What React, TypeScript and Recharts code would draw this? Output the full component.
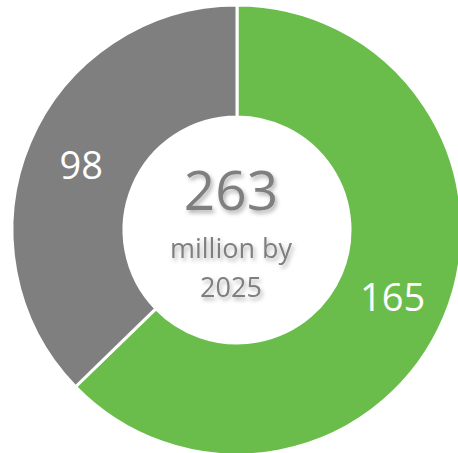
import { PieChart, Pie, Cell } from 'recharts';

const segments = ['Green', 'Gray'];
const values = [165, 98];
const colors = ['#6abd4b', '#7f7f7f'];
const totalLabel = '263';
const subLines = ['million by', '2025'];

const data = segments.map((name, i) => ({ name, value: values[i] }));

const RAD = Math.PI / 180;
const FONT = '"Open Sans", "Noto Sans", sans-serif';

function SliceLabel(props: any) {
  const { cx, cy, midAngle, innerRadius, outerRadius, value } = props;
  const r = (innerRadius + outerRadius) / 2;
  const x = cx + r * Math.cos(-midAngle * RAD);
  const y = cy + r * Math.sin(-midAngle * RAD);
  return (
    <text
      x={x}
      y={y}
      fill="#ffffff"
      textAnchor="middle"
      dominantBaseline="central"
      fontSize={38}
      fontFamily={FONT}
    >
      {value}
    </text>
  );
}

export default function App() {
  const cx = 237;
  const cy = 230;
  return (
    <div style={{ position: 'absolute', left: 0, top: 0, width: 458, height: 453, background: '#fff' }}>
      <PieChart width={458} height={453} margin={{ top: 0, right: 0, bottom: 0, left: 0 }}>
        <defs>
          <filter id="txtShadow" x="-20%" y="-20%" width="140%" height="160%">
            <feDropShadow dx="2" dy="3" stdDeviation="2" floodColor="#000" floodOpacity="0.3" />
          </filter>
        </defs>
        <Pie
          data={data}
          dataKey="value"
          nameKey="name"
          cx={cx}
          cy={cy}
          innerRadius={113}
          outerRadius={225}
          startAngle={90}
          endAngle={-270}
          stroke="#ffffff"
          strokeWidth={3}
          label={SliceLabel}
          labelLine={false}
          isAnimationActive={false}
        >
          {data.map((d, i) => (
            <Cell key={d.name} fill={colors[i]} />
          ))}
        </Pie>
        <g filter="url(#txtShadow)" fill="#7f7f7f" fontFamily={FONT} textAnchor="middle">
          <text x={231} y={210} fontSize={55}>
            {totalLabel}
          </text>
          <text x={231} y={258} fontSize={27}>
            {subLines[0]}
          </text>
          <text x={231} y={297} fontSize={27}>
            {subLines[1]}
          </text>
        </g>
      </PieChart>
    </div>
  );
}
